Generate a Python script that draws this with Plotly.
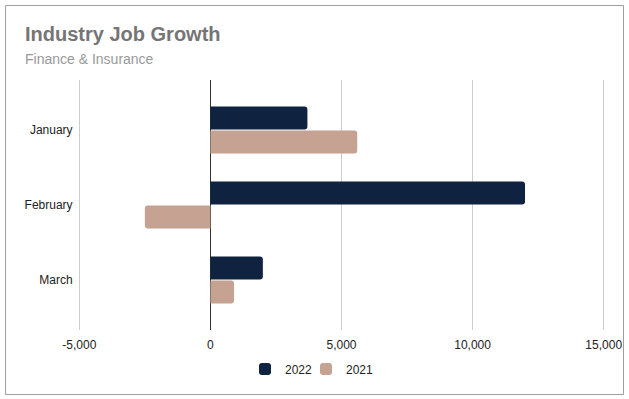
import plotly.graph_objects as go

months = ["January", "February", "March"]
series_names = ["2022", "2021"]
values_2022 = [3700, 12000, 2000]
values_2021 = [5600, -2500, 900]
x_ticks = [-5000, 0, 5000, 10000, 15000]
x_tick_labels = ["-5,000", "0", "5,000", "10,000", "15,000"]
colors = ["#0f2341", "#c5a292"]

W, H = 629, 399
ML, MR, MT, MB = 78, 24, 80, 69
PW, PH = W - ML - MR, H - MT - MB

def px_x(p):
    return (p - ML) / PW

def px_y(p):
    return (H - MB - p) / PH

fig = go.Figure()
legend_ids = ["legend", "legend2"]
for name, vals, col, lg in zip(series_names, [values_2022, values_2021], colors, legend_ids):
    fig.add_trace(go.Bar(
        y=months, x=vals, name=name, orientation="h",
        marker=dict(color=col, line=dict(width=0)),
        hoverinfo="x+y+name", legend=lg,
    ))

legend_common = dict(orientation="h", yanchor="middle", y=px_y(369), xanchor="left",
                     font=dict(size=12, color="#222222"), itemwidth=30,
                     bgcolor="rgba(0,0,0,0)", borderwidth=0)

fig.update_layout(
    width=W, height=H,
    margin=dict(l=ML, r=MR, t=MT, b=MB, autoexpand=False),
    paper_bgcolor="white", plot_bgcolor="white",
    font=dict(family="Liberation Sans, Arial, sans-serif", size=12, color="#222222"),
    barmode="group", bargap=0.36, bargroupgap=0.04, barcornerradius=3,
    showlegend=True,
    legend=dict(x=px_x(245), **legend_common),
    legend2=dict(x=px_x(306), **legend_common),
    xaxis=dict(range=[-5050, 15050], tickvals=x_ticks, ticktext=x_tick_labels,
               showgrid=True, gridcolor="#cccccc", gridwidth=1,
               zeroline=True, zerolinecolor="#333333", zerolinewidth=1,
               showline=False, ticks="outside", ticklen=4, tickcolor="rgba(0,0,0,0)",
               tickfont=dict(size=12, color="#222222"), automargin=False,
               fixedrange=True),
    yaxis=dict(range=[2.667, -0.667], showgrid=False, zeroline=False, showline=False,
               ticks="outside", ticklen=2, tickcolor="rgba(0,0,0,0)",
               tickfont=dict(size=12, color="#222222"), automargin=False,
               fixedrange=True),
    annotations=[
        dict(text="<b>Industry Job Growth</b>", xref="paper", yref="paper",
             x=px_x(23), y=px_y(34), xanchor="left", yanchor="middle", showarrow=False,
             font=dict(size=20, color="#757575", family="Liberation Sans, Arial, sans-serif")),
        dict(text="Finance &amp; Insurance", xref="paper", yref="paper",
             x=px_x(23), y=px_y(59), xanchor="left", yanchor="middle", showarrow=False,
             font=dict(size=14, color="#999999", family="Liberation Sans, Arial, sans-serif")),
    ],
    shapes=[dict(type="rect", xref="paper", yref="paper",
                 x0=px_x(5.5), x1=px_x(623.5), y0=px_y(394.5), y1=px_y(5.5),
                 line=dict(color="#9e9e9e", width=1), fillcolor="rgba(0,0,0,0)", layer="below")],
)

fig.write_html("out.html", config={"displayModeBar": False},
               post_script="document.body.style.margin='0';")
